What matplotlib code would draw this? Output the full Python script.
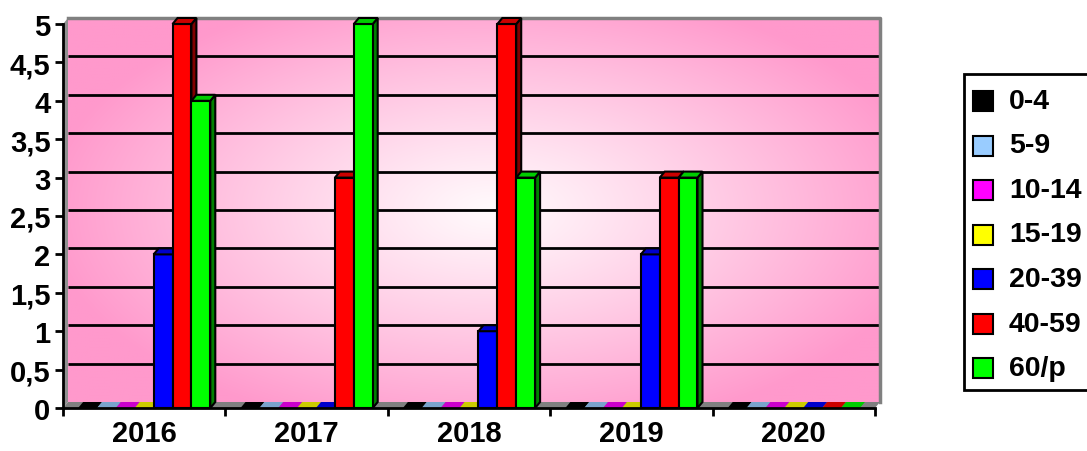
import numpy as np
import matplotlib
matplotlib.use('Agg')
from matplotlib import pyplot as plt
from matplotlib.patches import Rectangle, Polygon
from matplotlib.colors import to_rgb

plt.rcParams['font.family'] = ['Liberation Sans', 'DejaVu Sans']

# -----------------------------------------------
# data
years = ['2016', '2017', '2018', '2019', '2020']
groups = ['0-4', '5-9', '10-14', '15-19', '20-39', '40-59', '60/p']
colors = ['#000000', '#99CCFF', '#FF00FF', '#FFFF00', '#0000FF', '#FF0000', '#00FF00']
v_0_4 = [0, 0, 0, 0, 0]
v_5_9 = [0, 0, 0, 0, 0]
v_10_14 = [0, 0, 0, 0, 0]
v_15_19 = [0, 0, 0, 0, 0]
v_20_39 = [2, 0, 1, 2, 0]
v_40_59 = [5, 3, 5, 3, 0]
v_60p = [4, 5, 3, 3, 0]
values = [v_0_4, v_5_9, v_10_14, v_15_19, v_20_39, v_40_59, v_60p]
yticks = np.arange(0, 5.01, 0.5)
# -----------------------------------------------

W, H = 1087, 452
fig = plt.figure(figsize=(W / 100, H / 100), dpi=100)

# front axis box in pixels
x0p, x1p, y0p, y1p = 63, 875, 25, 409
ax = fig.add_axes([x0p / W, 1 - y1p / H, (x1p - x0p) / W, (y1p - y0p) / H])
ax.set_xlim(0, len(years))
ax.set_ylim(0, 5)
ax.patch.set_visible(False)

# depth offset in data units (5 px right, 6 px up)
dx = 5 / ((x1p - x0p) / len(years))
dy = 6 / ((y1p - y0p) / 5)


def shade(c, f):
    r, g, b = to_rgb(c)
    return (r * f, g * f, b * f)


# back wall gradient
nx, ny = 400, 200
gx = np.linspace(0, 1, nx)
gy = np.linspace(0, 1, ny)
GX, GY = np.meshgrid(gx, gy)
d = np.sqrt(((GX - 0.52) / 0.55) ** 2 + ((GY - 0.5) / 0.6) ** 2)
t = np.clip(d, 0, 1) ** 1.1
pink = np.array(to_rgb('#FF99CC'))
white = np.array(to_rgb('#FFFAFC'))
img = white[None, None, :] * (1 - t[..., None]) + pink[None, None, :] * t[..., None]
ax.imshow(img, extent=(dx, len(years) + dx, dy, 5 + dy), origin='upper',
          aspect='auto', zorder=0, clip_on=False, interpolation='bilinear')

# side wall and floor
ax.add_patch(Polygon([(0, 0), (dx, dy), (dx, 5 + dy), (0, 5)], closed=True,
                     facecolor='#909090', edgecolor='none', zorder=1, clip_on=False))
ax.add_patch(Polygon([(0, 0), (len(years), 0), (len(years) + dx, dy), (dx, dy)], closed=True,
                     facecolor='#808080', edgecolor='none', zorder=1, clip_on=False))

# gridlines on the back wall
for yv in yticks[1:-1]:
    ax.plot([dx, len(years) + dx], [yv + dy, yv + dy], color='black', lw=2,
            zorder=2, clip_on=False, solid_capstyle='butt')
ax.plot([dx, len(years) + dx, len(years) + dx], [5 + dy, 5 + dy, dy], color='#808080',
        lw=2.5, zorder=2, clip_on=False)

# bars
n = len(groups)
bw = 1 / (n + 1.6)
start = (1 - n * bw) / 2
z = 3
for ci in range(len(years)):
    for gi in range(n):
        v = values[gi][ci]
        c = colors[gi]
        xl = ci + start + gi * bw
        xr = xl + bw
        z += 1
        if v > 0:
            ax.add_patch(Polygon([(xr, 0), (xr + dx, dy), (xr + dx, v + dy), (xr, v)], closed=True,
                                 facecolor=shade(c, 0.5), edgecolor='black', lw=1.5,
                                 zorder=z, clip_on=False))
            ax.add_patch(Rectangle((xl, 0), bw, v, facecolor=c, edgecolor='black', lw=1.5,
                                   zorder=z, clip_on=False))
        ax.add_patch(Polygon([(xl, v), (xr, v), (xr + dx, v + dy), (xl + dx, v + dy)], closed=True,
                             facecolor=shade(c, 0.8), edgecolor='black' if v > 0 else 'none',
                             lw=1.5, zorder=z, clip_on=False))

# axes
for s in ['top', 'right']:
    ax.spines[s].set_visible(False)
for s in ['left', 'bottom']:
    ax.spines[s].set_linewidth(2)
    ax.spines[s].set_zorder(50)
ax.set_yticks(yticks)
ax.set_yticklabels([f'{v:g}'.replace('.', ',') for v in yticks])
ax.set_xticks(np.arange(len(years) + 1))
ax.set_xticklabels([])
ax.set_xticks(np.arange(len(years)) + 0.5, minor=True)
ax.set_xticklabels(years, minor=True)
ax.tick_params(axis='both', which='major', direction='out', length=6, width=2,
               labelsize=21)
ax.tick_params(axis='x', which='minor', length=0, labelsize=21, pad=8)
ax.tick_params(axis='y', pad=3)
for lab in ax.get_yticklabels() + ax.get_xticklabels(minor=True):
    lab.set_fontweight('bold')

# legend
lx0, ly0, lx1, ly1 = 964, 75, 1090, 391
fig.patches.append(Rectangle((lx0 / W, 1 - ly1 / H), (lx1 - lx0) / W, (ly1 - ly0) / H,
                             transform=fig.transFigure, facecolor='white',
                             edgecolor='black', lw=2, zorder=10))
for i, (g, c) in enumerate(zip(groups, colors)):
    yc = 102 + i * 44.5
    fig.patches.append(Rectangle((973 / W, 1 - (yc + 10) / H), 20 / W, 20 / H,
                                 transform=fig.transFigure, facecolor=c,
                                 edgecolor='black', lw=1.5, zorder=11))
    fig.text(1009 / W, 1 - yc / H, g, fontsize=20.5, fontweight='bold',
             va='center', ha='left', zorder=12)

fig.savefig('out.png', dpi=100)
